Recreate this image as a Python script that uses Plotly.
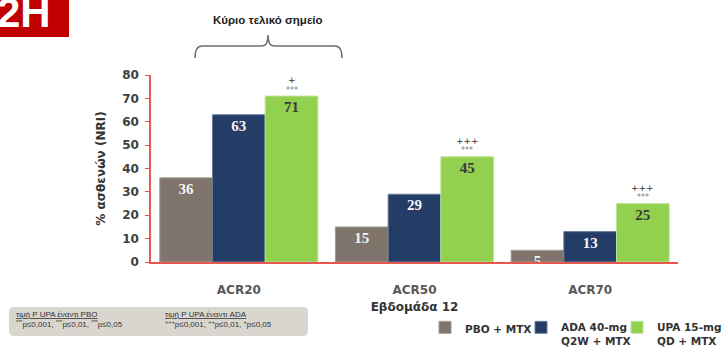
import plotly.graph_objects as go

# ---- data -------------------------------------------------------------
categories = ["ACR20", "ACR50", "ACR70"]
series_names = ["PBO + MTX", "ADA 40-mg<br>Q2W + MTX", "UPA 15-mg<br>QD + MTX"]
pbo_values = [36, 15, 5]
ada_values = [63, 29, 13]
upa_values = [71, 45, 25]
sig_vs_pbo = ["***", "***", "***"]
sig_vs_ada = ["+", "+++", "+++"]
y_ticks = [0, 10, 20, 30, 40, 50, 60, 70, 80]

# ---- styling ----------------------------------------------------------
bar_colors = ["#7f756c", "#243d66", "#92d050"]
bar_edges = ["#a39b94", "#6b7d9c", "#bfe59a"]
label_colors = ["#f4f4f4", "#f4f4f4", "#3a3a3a"]
axis_red = "#e8574d"
SANS = "DejaVu Sans"

# plot-area geometry in pixels (used to place decorations outside the axes)
W, H = 723, 350
ML, MR, MT, MB = 151, 45, 75, 88
PW, PH = W - ML - MR, H - MT - MB


def px_x(x):
    return (x - ML) / PW


def px_y(y):
    return (H - MB - y) / PH


legend_ids = ["legend", "legend2", "legend3"]
legend_left_px = [425, 521, 617]

fig = go.Figure()
for name, vals, col, edge, lc, lid in zip(series_names, [pbo_values, ada_values, upa_values],
                                          bar_colors, bar_edges, label_colors, legend_ids):
    fig.add_trace(go.Bar(
        x=categories, y=vals, name=name, legend=lid,
        marker=dict(color=col, line=dict(color=edge, width=1)),
        text=[str(v) for v in vals], textposition="inside", textangle=0,
        insidetextanchor="end", constraintext="none",
        textfont=dict(family="Liberation Serif", size=15, color=lc, weight="bold"),
        hoverinfo="skip",
    ))

# significance markers above the UPA bars
for i, v in enumerate(upa_values):
    fig.add_annotation(x=i + 0.3, y=v, xref="x", yref="y", text=sig_vs_pbo[i],
                       showarrow=False, yanchor="middle", yshift=6,
                       font=dict(family=SANS, size=8, color="#7a7a7a"))
    fig.add_annotation(x=i + 0.3, y=v, xref="x", yref="y", text=sig_vs_ada[i],
                       showarrow=False, yanchor="middle", yshift=16,
                       font=dict(family=SANS, size=9, color="#333333"))

# "2H" panel tag
fig.add_shape(type="rect", xref="paper", yref="paper",
              x0=px_x(0), x1=px_x(69), y0=px_y(37), y1=px_y(-2),
              fillcolor="#c00000", line=dict(width=0), layer="above")
fig.add_annotation(xref="paper", yref="paper", x=px_x(24), y=px_y(12),
                   text="<b>2H</b>", showarrow=False, xanchor="center", yanchor="middle",
                   font=dict(family="Liberation Sans", size=42, color="white"))

# brace over the primary endpoint
bx0, bx1, bm, by, bt, bb = 195, 342, 268, 46, 35, 58
pts = [
    f"M{px_x(bx0)},{px_y(bb)}",
    f"Q{px_x(bx0)},{px_y(by)} {px_x(bx0 + 7)},{px_y(by)}",
    f"L{px_x(bm - 6)},{px_y(by)}",
    f"Q{px_x(bm)},{px_y(by)} {px_x(bm)},{px_y(bt)}",
    f"Q{px_x(bm)},{px_y(by)} {px_x(bm + 6)},{px_y(by)}",
    f"L{px_x(bx1 - 7)},{px_y(by)}",
    f"Q{px_x(bx1)},{px_y(by)} {px_x(bx1)},{px_y(bb)}",
]
fig.add_shape(type="path", xref="paper", yref="paper", path=" ".join(pts),
              line=dict(color="#6e6e6e", width=1.5))
fig.add_annotation(xref="paper", yref="paper", x=px_x(268), y=px_y(20),
                   xanchor="center", yanchor="middle",
                   text="<b>Κύριο τελικό σημείο</b>", showarrow=False,
                   font=dict(family="Liberation Sans", size=11.5, color="#222222"))

# footnote box
fx0, fx1, fy0, fy1, r = 9, 308, 307, 336, 5
box = (f"M{px_x(fx0 + r)},{px_y(fy0)} L{px_x(fx1 - r)},{px_y(fy0)} "
       f"Q{px_x(fx1)},{px_y(fy0)} {px_x(fx1)},{px_y(fy0 + r)} "
       f"L{px_x(fx1)},{px_y(fy1 - r)} Q{px_x(fx1)},{px_y(fy1)} {px_x(fx1 - r)},{px_y(fy1)} "
       f"L{px_x(fx0 + r)},{px_y(fy1)} Q{px_x(fx0)},{px_y(fy1)} {px_x(fx0)},{px_y(fy1 - r)} "
       f"L{px_x(fx0)},{px_y(fy0 + r)} Q{px_x(fx0)},{px_y(fy0)} {px_x(fx0 + r)},{px_y(fy0)} Z")
fig.add_shape(type="path", xref="paper", yref="paper", path=box,
              fillcolor="#d8d6cf", line=dict(color="#d8d6cf", width=0), layer="below")
foot_font = dict(family="Liberation Sans", size=8, color="#333333")
fig.add_annotation(xref="paper", yref="paper", x=px_x(14), y=px_y(319), xanchor="left",
                   yanchor="middle", align="left", showarrow=False, font=foot_font,
                   text="<u>τιμή P UPA έναντι PBO</u><br>"
                        "<sup>***</sup>p≤0,001, <sup>***</sup>p≤0,01, <sup>***</sup>p≤0,05")
fig.add_annotation(xref="paper", yref="paper", x=px_x(163), y=px_y(319), xanchor="left",
                   yanchor="middle", align="left", showarrow=False, font=foot_font,
                   text="<u>τιμή P UPA έναντι ADA</u><br>"
                        "<sup>+++</sup>p≤0,001, <sup>++</sup>p≤0,01, <sup>+</sup>p≤0,05")

legend_style = dict(y=px_y(314), xanchor="left", yanchor="top", valign="top",
                    orientation="h", bgcolor="rgba(0,0,0,0)",
                    font=dict(family=SANS, size=10.5, color="#333333", weight="bold"))
legends = {lid: dict(x=px_x(lx), **legend_style) for lid, lx in zip(legend_ids, legend_left_px)}

fig.update_layout(
    width=W, height=H,
    margin=dict(l=ML, r=MR, t=MT, b=MB, autoexpand=False),
    paper_bgcolor="white", plot_bgcolor="white",
    barmode="group", bargap=0.1, bargroupgap=0,
    showlegend=True,
    **legends,
    xaxis=dict(showline=True, linecolor=axis_red, linewidth=1.5, ticks="",
               showgrid=False, zeroline=False, automargin=False,
               ticklabelstandoff=16,
               tickfont=dict(family=SANS, size=12, color="#595959", weight="bold"),
               title=dict(text="Εβδομάδα 12", standoff=6,
                          font=dict(family=SANS, size=12, color="#333333", weight="bold"))),
    yaxis=dict(range=[0, 80], tickvals=y_ticks, showline=True, linecolor=axis_red,
               linewidth=1.5, ticks="outside", ticklen=4, tickcolor=axis_red,
               showgrid=False, zeroline=False, automargin=False, ticklabelstandoff=4,
               tickfont=dict(family=SANS, size=12, color="#404040", weight="bold"),
               title=dict(text="% ασθενών (NRI)", standoff=14,
                          font=dict(family=SANS, size=12, color="#333333", weight="bold"))),
)

fig.write_html("out.html")
